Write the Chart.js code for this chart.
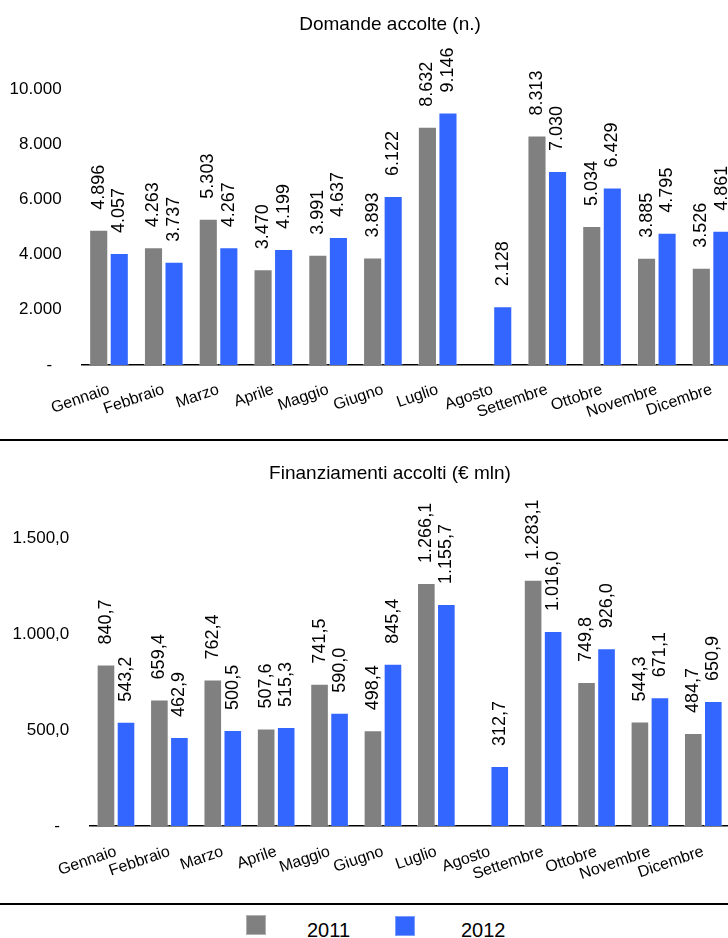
<!DOCTYPE html>
<html>
<head>
<meta charset="utf-8">
<script src="https://cdn.jsdelivr.net/npm/chart.js@4.4.0/dist/chart.umd.min.js"></script>
<style>
  html, body { margin: 0; padding: 0; background: #fff; }
  body { width: 728px; height: 938px; overflow: hidden; position: relative; font-family: "Liberation Sans", Arial, sans-serif; }
  canvas { position: absolute; left: 0; }
  .sep { position: absolute; left: 0; width: 728px; height: 2px; background: #000; }
  .box { position: absolute; width: 20px; height: 20px; }
  .lt { position: absolute; font-size: 20px; line-height: 20px; color: #000; }
</style>
</head>
<body>
<canvas id="c1" width="739" height="438" style="top:0"></canvas>
<div class="sep" style="top:439px"></div>
<canvas id="c2" width="730" height="461" style="top:442px"></canvas>
<div class="sep" style="top:903px"></div>
<div class="box" style="left:246px; top:915px; background:#808080; border:1px solid #b0b0b0; box-sizing:border-box;"></div>
<div class="lt" style="left:307px; top:920px;">2011</div>
<div class="box" style="left:395px; top:916px; background:#3366FF; border:1px solid #7a9cff; box-sizing:border-box;"></div>
<div class="lt" style="left:461px; top:920px;">2012</div>
<script>
// ---- data ----
const months = ["Gennaio","Febbraio","Marzo","Aprile","Maggio","Giugno","Luglio","Agosto","Settembre","Ottobre","Novembre","Dicembre"];
const seriesNames = ["2011","2012"];
const domande2011 = [4896, 4263, 5303, 3470, 3991, 3893, 8632, null, 8313, 5034, 3885, 3526];
const domande2012 = [4057, 3737, 4267, 4199, 4637, 6122, 9146, 2128, 7030, 6429, 4795, 4861];
const finanz2011 = [840.7, 659.4, 762.4, 507.6, 741.5, 498.4, 1266.1, null, 1283.1, 749.8, 544.3, 484.7];
const finanz2012 = [543.2, 462.9, 500.5, 515.3, 590.0, 845.4, 1155.7, 312.7, 1016.0, 926.0, 671.1, 650.9];
const ticks1 = [0, 2000, 4000, 6000, 8000, 10000];
const ticks2 = [0, 500, 1000, 1500];
const title1 = "Domande accolte (n.)";
const title2 = "Finanziamenti accolti (\u20AC mln)";
const grayColor = "#808080";
const blueColor = "#3366FF";

// ---- formatting (Italian) ----
function groupThousands(s) {
  return s.replace(/\B(?=(\d{3})+(?!\d))/g, ".");
}
function fmtInt(v) { return groupThousands(String(Math.round(v))); }
function fmtDec1(v) {
  const parts = v.toFixed(1).split(".");
  return groupThousands(parts[0]) + "," + parts[1];
}

Chart.defaults.font.family = '"Liberation Sans", Arial, sans-serif';
Chart.defaults.color = "#000";

const valueLabels = {
  id: "valueLabels",
  afterDatasetsDraw(chart, args, opts) {
    const ctx = chart.ctx;
    ctx.save();
    ctx.font = "18px 'Liberation Sans', Arial, sans-serif";
    ctx.fillStyle = "#000";
    ctx.textAlign = "left";
    ctx.textBaseline = "middle";
    chart.data.datasets.forEach((ds, di) => {
      const meta = chart.getDatasetMeta(di);
      meta.data.forEach((el, i) => {
        const v = ds.data[i];
        if (v === null || v === undefined) return;
        ctx.save();
        ctx.translate(el.x, el.y - opts.gap);
        ctx.rotate(-Math.PI / 2);
        ctx.fillText(opts.fmt(v), 0, 0);
        ctx.restore();
      });
    });
    ctx.restore();
  }
};

const chartTitle = {
  id: "chartTitle",
  afterDraw(chart, args, opts) {
    const ctx = chart.ctx;
    ctx.save();
    ctx.font = "19px 'Liberation Sans', Arial, sans-serif";
    ctx.fillStyle = "#000";
    ctx.textAlign = "center";
    ctx.textBaseline = "alphabetic";
    ctx.fillText(opts.text, opts.x, opts.y);
    ctx.restore();
  }
};

function makeChart(id, d1, d2, title, titleX, titleY, tickVals, yMax, topPad, yWidth, xHeight, xPad, fmtTick, fmtLabel) {
  return new Chart(document.getElementById(id), {
    type: "bar",
    data: {
      labels: months,
      datasets: [
        { label: seriesNames[0], data: d1, backgroundColor: grayColor, borderColor: "rgba(255,255,255,0.55)", borderWidth: 1,
          categoryPercentage: 0.75, barPercentage: 0.93 },
        { label: seriesNames[1], data: d2, backgroundColor: blueColor, borderColor: "rgba(255,255,255,0.45)", borderWidth: 1,
          categoryPercentage: 0.75, barPercentage: 0.93 }
      ]
    },
    options: {
      responsive: false,
      animation: false,
      devicePixelRatio: 1,
      layout: { padding: { top: topPad, left: 0, right: 0, bottom: 0 } },
      plugins: {
        legend: { display: false },
        tooltip: { enabled: false },
        title: { display: false },
        chartTitle: { text: title, x: titleX, y: titleY },
        valueLabels: { gap: 20, fmt: fmtLabel }
      },
      scales: {
        x: {
          grid: { display: false, drawTicks: false },
          border: { display: true, color: "#000", width: 1.5 },
          ticks: { autoSkip: false, minRotation: 19, maxRotation: 19, padding: xPad, font: { size: 16 }, color: "#000" },
          afterFit(scale) { scale.height = xHeight; scale.paddingLeft = 0; scale.paddingRight = 0; }
        },
        y: {
          min: 0, max: yMax,
          grid: { display: false, drawTicks: false },
          border: { display: false },
          afterBuildTicks(scale) { scale.ticks = tickVals.map(v => ({ value: v })); },
          ticks: {
            padding: 20, font: { size: 17 }, color: "#000",
            callback: (v) => (v === 0 ? "-  " : fmtTick(v))
          },
          afterFit(scale) { scale.width = yWidth; scale.paddingTop = 0; scale.paddingBottom = 0; }
        }
      }
    },
    plugins: [valueLabels, chartTitle]
  });
}

makeChart("c1", domande2011, domande2012, title1, 390, 29.5, ticks1, 12000, 33.8, 81.6, 73, 15, fmtInt, fmtInt);
makeChart("c2", finanz2011, finanz2012, title2, 390, 37.3, ticks2, 1750, 48, 89.3, 77, 16, fmtDec1, fmtDec1);
</script>
</body>
</html>
